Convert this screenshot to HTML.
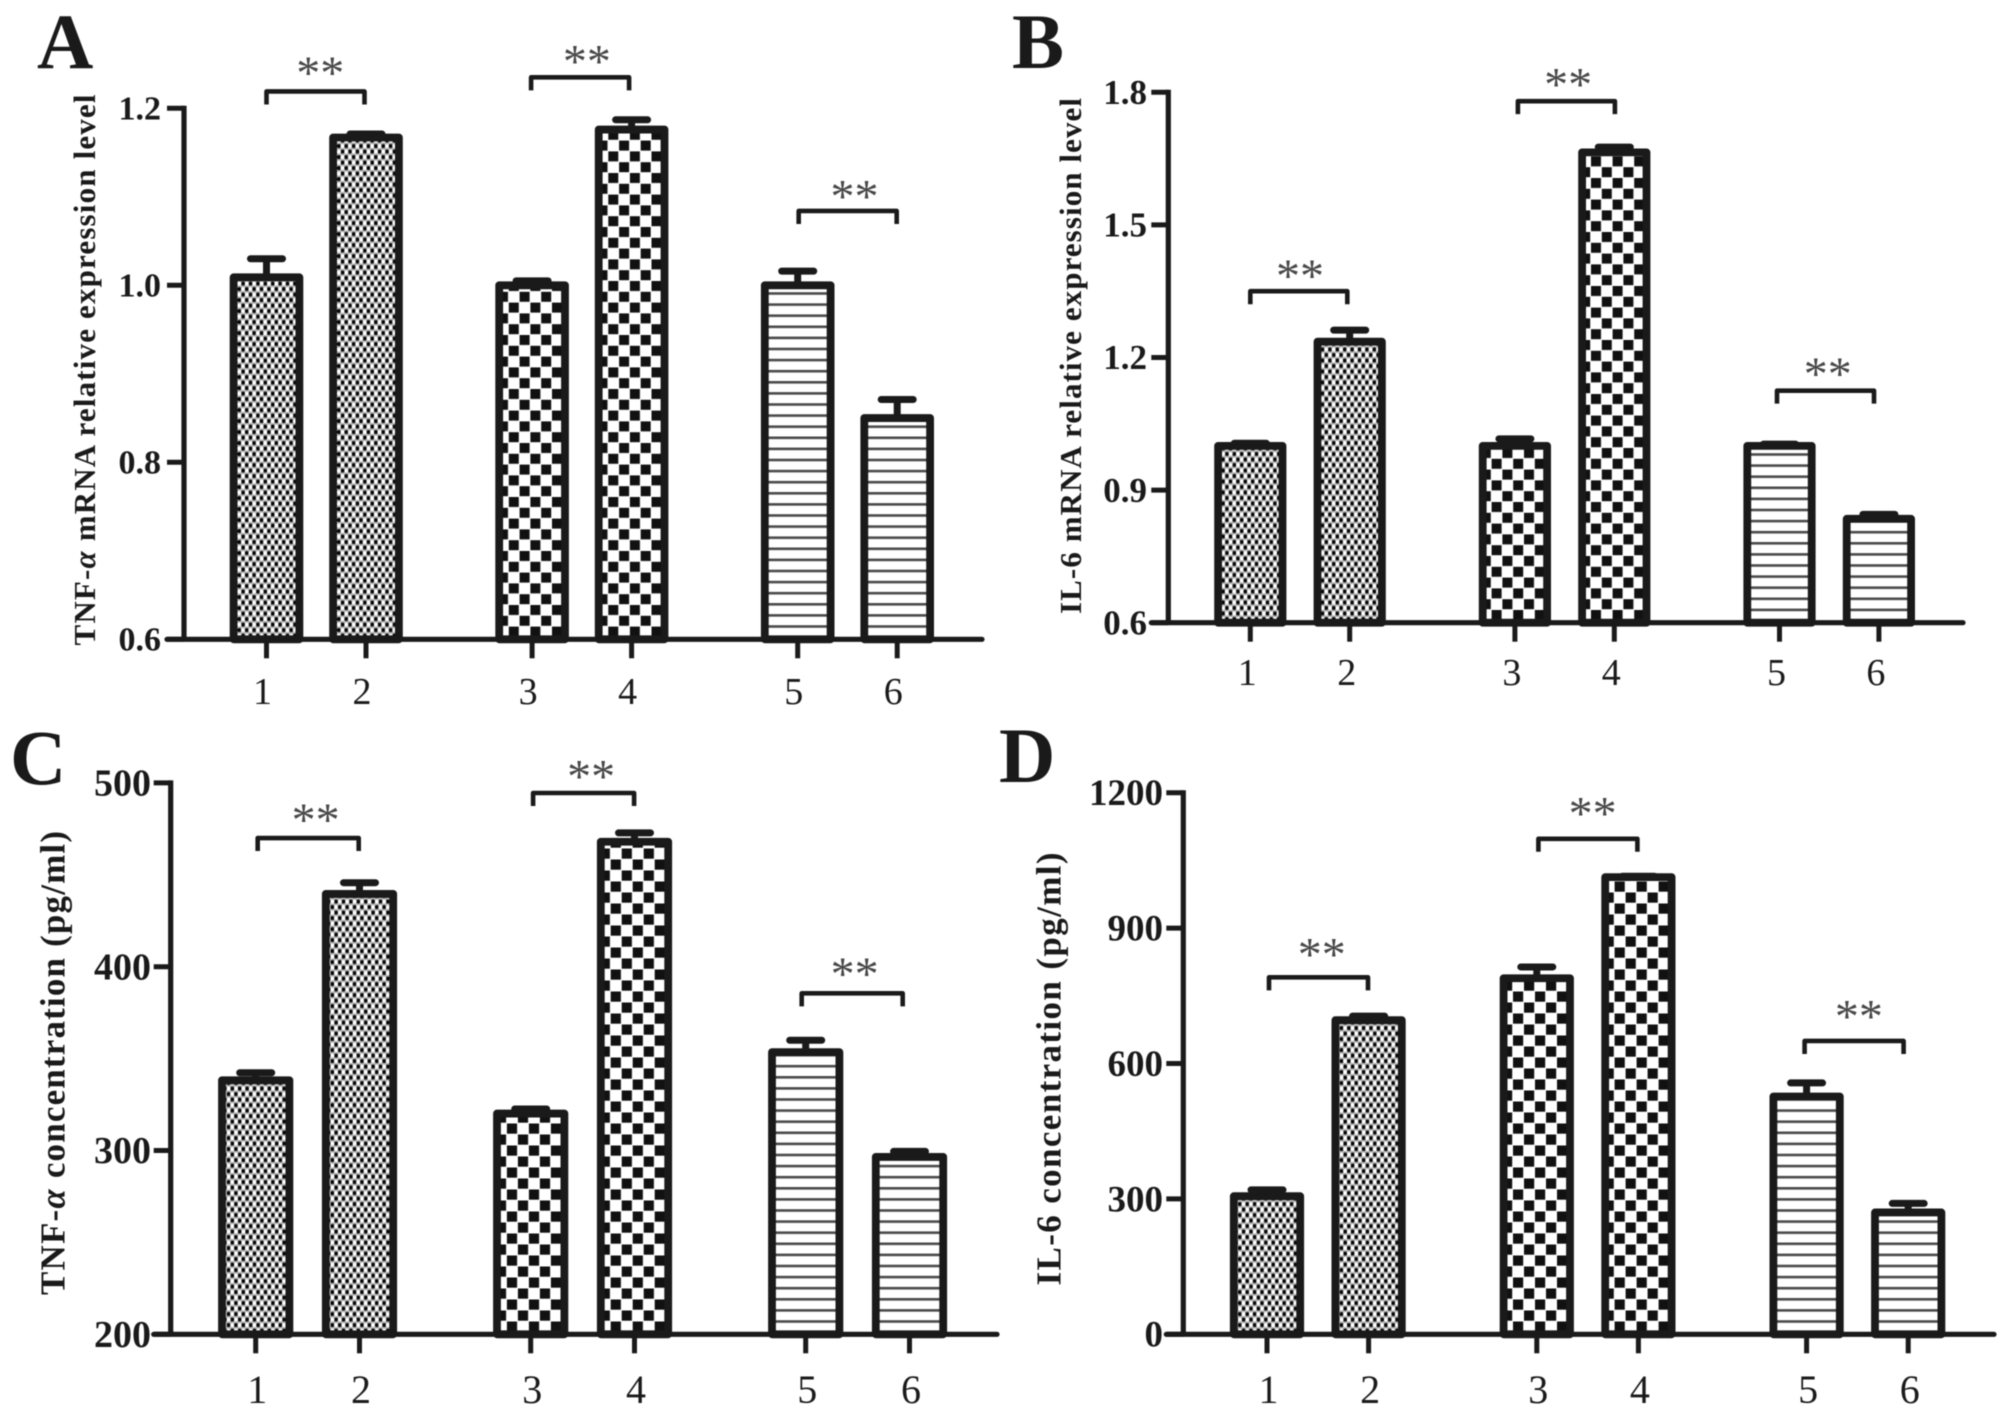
<!DOCTYPE html>
<html lang="en">
<head>
<meta charset="utf-8">
<title>TNF-α and IL-6 expression bar charts</title>
<style>
html,body{margin:0;padding:0;background:#fff;width:2008px;height:1416px;overflow:hidden}
svg{display:block;filter:blur(0.65px)}
text{font-family:"Liberation Serif",serif;fill:#1a1a1a}
</style>
</head>
<body>
<svg id="figure" xmlns="http://www.w3.org/2000/svg" width="2008" height="1416" viewBox="0 0 2008 1416">
<rect width="2008" height="1416" fill="#ffffff"/>
<defs id="defs"></defs>
</svg>
<script>
const categories = ['1', '2', '3', '4', '5', '6'];
const fillKinds = ['dots', 'dots', 'check', 'check', 'lines', 'lines'];
const bracketPairs = [[0, 1], [2, 3], [4, 5]];

const valuesA = [1.009, 1.167, 1.0, 1.176, 1.0, 0.85];
const errorsA = [0.021, 0.004, 0.005, 0.011, 0.016, 0.021];
const ticksA = [0.6, 0.8, 1.0, 1.2];
const tickLabelsA = ['0.6', '0.8', '1.0', '1.2'];
const bracketsA = [1.219, 1.235, 1.084];

const valuesB = [1.0, 1.236, 1.0, 1.664, 1.0, 0.835];
const errorsB = [0.006, 0.026, 0.016, 0.012, 0.004, 0.01];
const ticksB = [0.6, 0.9, 1.2, 1.5, 1.8];
const tickLabelsB = ['0.6', '0.9', '1.2', '1.5', '1.8'];
const bracketsB = [1.35, 1.78, 1.125];

const valuesC = [338.2, 439.6, 320.1, 468, 353.5, 296.5];
const errorsC = [4.1, 6.1, 2.5, 4.8, 6.5, 3];
const ticksC = [200, 300, 400, 500];
const tickLabelsC = ['200', '300', '400', '500'];
const bracketsC = [470, 494.5, 385.5];

const valuesD = [306, 696, 789, 1013, 527, 270];
const errorsD = [14, 9, 25, 2, 30, 20];
const ticksD = [0, 300, 600, 900, 1200];
const tickLabelsD = ['0', '300', '600', '900', '1200'];
const bracketsD = [791, 1098, 650];

const NS = 'http://www.w3.org/2000/svg';
const svg = document.getElementById('figure');
const defs = document.getElementById('defs');
const INK = '#1a1a1a';

function mk(tag, attrs, parent) {
  const el = document.createElementNS(NS, tag);
  for (const k in attrs) el.setAttribute(k, attrs[k]);
  (parent || svg).appendChild(el);
  return el;
}

function addPattern(id, kind, cx, axisY, cell) {
  if (kind === 'lines') {
    const p = mk('pattern', { id: id, patternUnits: 'userSpaceOnUse', width: 10, height: 11.1, patternTransform: 'translate(0,' + (axisY - 3) + ')' }, defs);
    mk('rect', { width: 10, height: 11.1, fill: '#ffffff' }, p);
    mk('rect', { y: 0, width: 10, height: 2.6, fill: '#4a4a4a' }, p);
  } else if (kind === 'check') {
    const size = cell - 0.8;
    const p = mk('pattern', { id: id, patternUnits: 'userSpaceOnUse', width: cell * 2, height: cell * 2, patternTransform: 'translate(' + (cx + 3.3 - size / 2) + ',' + (axisY - 7.7 - size / 2) + ')' }, defs);
    mk('rect', { width: cell * 2, height: cell * 2, fill: '#ffffff' }, p);
    mk('rect', { x: 0, y: 0, width: size, height: size, fill: '#111111' }, p);
    mk('rect', { x: cell, y: cell, width: size, height: size, fill: '#111111' }, p);
  } else {
    const p = mk('pattern', { id: id, patternUnits: 'userSpaceOnUse', width: 7.4, height: 11, patternTransform: 'translate(' + (cx + 0.6) + ',' + (axisY - 1) + ')' }, defs);
    mk('rect', { width: 7.4, height: 11, fill: '#b4b4b4' }, p);
    mk('circle', { cx: 1.85, cy: 2.75, r: 2.05, fill: '#050505' }, p);
    mk('circle', { cx: 5.55, cy: 8.25, r: 2.05, fill: '#050505' }, p);
    mk('circle', { cx: 5.55, cy: 2.75, r: 2.05, fill: '#ffffff' }, p);
    mk('circle', { cx: 1.85, cy: 8.25, r: 2.05, fill: '#ffffff' }, p);
  }
}

function drawPanel(cfg) {
  const key = cfg.letter.toLowerCase();
  const yScale = function (v) { return cfg.axisY - (v - cfg.ticks[0]) * cfg.pxPerUnit; };
  const xScale = function (i) { return cfg.x0 + cfg.groupStep * Math.floor(i / 2) + cfg.barStep * (i % 2); };

  const g = mk('g', {});
  
  

  const letter = mk('text', { x: cfg.letterX, y: cfg.letterY, 'font-size': 78, 'font-weight': 'bold' }, g);
  letter.textContent = cfg.letter;
  
  

  cfg.values.forEach(function (v, i) {
    const cx = xScale(i);
    const top = yScale(v);
    const pid = 'fill-' + key + '-' + i;
    addPattern(pid, fillKinds[i], cx, cfg.axisY, cfg.checkCell);

    const stem = mk('line', { x1: cx, x2: cx, y1: top, y2: yScale(v + cfg.errors[i]), stroke: INK, 'stroke-width': 7 }, g);
    
    

    const cap = mk('line', { x1: cx - 16, x2: cx + 16, y1: yScale(v + cfg.errors[i]), y2: yScale(v + cfg.errors[i]), stroke: INK, 'stroke-width': 7, 'stroke-linecap': 'round' }, g);
    
    

    const bar = mk('rect', { x: cx - cfg.halfBar, y: top, width: cfg.halfBar * 2, height: cfg.axisY - top, fill: 'url(#' + pid + ')', stroke: INK, 'stroke-width': 7.8, 'stroke-linejoin': 'round' }, g);
    
    

    const tick = mk('line', { x1: cx, x2: cx, y1: cfg.axisY, y2: cfg.axisY + 19, stroke: INK, 'stroke-width': 5 }, g);
    
    

    const label = mk('text', { x: cx + cfg.xLabelShift, y: cfg.axisY + cfg.xLabelDrop, 'font-size': cfg.xLabelSize, 'text-anchor': 'middle' }, g);
    label.textContent = categories[i];
    
    
  });

  const xAxis = mk('line', { x1: cfg.axisX - 17, x2: cfg.xEnd, y1: cfg.axisY, y2: cfg.axisY, stroke: INK, 'stroke-width': 5.2, 'stroke-linecap': 'round' }, g);
  
  

  const yAxis = mk('line', { x1: cfg.axisX, x2: cfg.axisX, y1: yScale(cfg.ticks[cfg.ticks.length - 1]) - 2.5, y2: cfg.axisY, stroke: INK, 'stroke-width': 5.2 }, g);
  
  

  cfg.ticks.forEach(function (t, i) {
    const ty = yScale(t);
    const tick = mk('line', { x1: cfg.axisX - 17, x2: cfg.axisX, y1: ty, y2: ty, stroke: INK, 'stroke-width': 5 }, g);
    
    

    const label = mk('text', { x: cfg.yLabelRight, y: ty + cfg.yLabelSize * 0.335, 'font-size': cfg.yLabelSize, 'font-weight': 'bold', 'text-anchor': 'end' }, g);
    label.textContent = cfg.tickLabels[i];
    
    
  });

  const title = mk('text', { x: 0, y: 0, transform: 'translate(' + cfg.titleX + ',' + cfg.titleY + ') rotate(-90)', 'font-size': cfg.titleSize, 'font-weight': 'bold', 'text-anchor': 'middle', textLength: cfg.titleLen, lengthAdjust: 'spacing' }, g);
  
  
  cfg.titleParts.forEach(function (part) {
    const span = mk('tspan', part === 'α' ? { 'font-style': 'italic' } : {}, title);
    span.textContent = part;
  });

  bracketPairs.forEach(function (pair, i) {
    const by = yScale(cfg.brackets[i]);
    const xa = xScale(pair[0]) + cfg.bracketShift[i];
    const xb = xa + cfg.bracketWidth;
    const br = mk('polyline', { points: xa + ',' + (by + 13) + ' ' + xa + ',' + by + ' ' + xb + ',' + by + ' ' + xb + ',' + (by + 13), fill: 'none', stroke: INK, 'stroke-width': 4.6, 'stroke-linejoin': 'round' }, g);
    
    

    const midX = (xScale(pair[0]) + xScale(pair[1])) / 2;
    const star = mk('text', { x: midX + cfg.starShift + cfg.starDX[i], y: by - cfg.starGap + cfg.starSize * 0.43 + cfg.starDY[i], 'font-size': cfg.starSize, 'text-anchor': 'middle', style: 'fill:#484848' }, g);
    star.textContent = '**';
    
    
  });
}

drawPanel({
  letter: 'A', letterX: 37, letterY: 68,
  values: valuesA, errors: errorsA, ticks: ticksA, tickLabels: tickLabelsA, brackets: bracketsA,
  axisX: 184, axisY: 639.3, pxPerUnit: 885, xEnd: 982,
  x0: 266.5, barStep: 99.5, groupStep: 265.6, halfBar: 32.9, checkCell: 10.8,
  bracketShift: [0, -1, 1], bracketWidth: 98,
  xLabelShift: -4, xLabelDrop: 64.5, xLabelSize: 38,
  yLabelRight: 161, yLabelSize: 34,
  titleX: 95, titleY: 370, titleSize: 31, titleLen: 551,
  titleParts: ['TNF-', 'α', ' mRNA relative expression level'],
  starShift: 6, starGap: 21, starSize: 48, starDX: [-2, -1, 1], starDY: [-2, 0.5, 2]
});

drawPanel({
  letter: 'B', letterX: 1012, letterY: 68,
  values: valuesB, errors: errorsB, ticks: ticksB, tickLabels: tickLabelsB, brackets: bracketsB,
  axisX: 1168.3, axisY: 622.7, pxPerUnit: 442, xEnd: 1963,
  x0: 1250.3, barStep: 99.4, groupStep: 264.6, halfBar: 32.2, checkCell: 10.8,
  bracketShift: [0, 3, -2.5], bracketWidth: 97,
  xLabelShift: -3, xLabelDrop: 62.5, xLabelSize: 38,
  yLabelRight: 1147, yLabelSize: 35,
  titleX: 1081, titleY: 356, titleSize: 31, titleLen: 516,
  titleParts: ['IL-6 mRNA relative expression level'],
  starShift: 1, starGap: 22, starSize: 48, starDX: [-1, 2.5, -2.5], starDY: [2, 0.7, 0.7]
});

drawPanel({
  letter: 'C', letterX: 10, letterY: 784,
  values: valuesC, errors: errorsC, ticks: ticksC, tickLabels: tickLabelsC, brackets: bracketsC,
  axisX: 170.7, axisY: 1334.3, pxPerUnit: 1.838, xEnd: 997,
  x0: 255.7, barStep: 103.8, groupStep: 275, halfBar: 33.7, checkCell: 11,
  bracketShift: [2, 2.4, -4], bracketWidth: 101,
  xLabelShift: 1.5, xLabelDrop: 68.5, xLabelSize: 40,
  yLabelRight: 151, yLabelSize: 38,
  titleX: 64.5, titleY: 1063, titleSize: 35, titleLen: 464,
  titleParts: ['TNF-', 'α', ' concentration (pg/ml)'],
  starShift: 6, starGap: 22, starSize: 48, starDX: [2, 2.5, -9], starDY: [-0.5, 0.7, -2]
});

drawPanel({
  letter: 'D', letterX: 999, letterY: 782,
  values: valuesD, errors: errorsD, ticks: ticksD, tickLabels: tickLabelsD, brackets: bracketsD,
  axisX: 1183.3, axisY: 1334.3, pxPerUnit: 0.4513, xEnd: 1994,
  x0: 1267, barStep: 101.6, groupStep: 269.8, halfBar: 33.2, checkCell: 11,
  bracketShift: [2, 1.6, -2], bracketWidth: 99,
  xLabelShift: 1.5, xLabelDrop: 68.5, xLabelSize: 40,
  yLabelRight: 1163, yLabelSize: 37,
  titleX: 1060.5, titleY: 1069, titleSize: 35, titleLen: 433,
  titleParts: ['IL-6 concentration (pg/ml)'],
  starShift: 4, starGap: 27, starSize: 48, starDX: [0, 1, -2.5], starDY: [-0.5, -3, -2]
});
</script>
</body>
</html>
